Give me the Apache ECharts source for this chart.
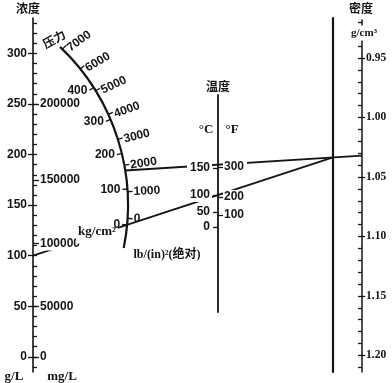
<!DOCTYPE html>
<html><head><meta charset="utf-8">
<script src="https://cdn.jsdelivr.net/npm/echarts@6.0.0/dist/echarts.min.js"></script>
<style>html,body{margin:0;padding:0;background:#fff;}#c{width:392px;height:383px;}</style>
</head><body><div id="c"></div>
<script>
// ---- scale data ----
const concGL = [0, 50, 100, 150, 200, 250, 300];
const concMinorGL = [-10, 0, 10, 20, 30, 40, 50, 60, 70, 80, 90, 100, 110, 120, 130, 140, 150, 160, 170, 180, 190, 200, 210, 220, 230, 240, 250, 260, 270, 280, 290, 300, 310, 320, 330];
const concMgL = [0, 50000, 100000, 150000, 200000];
const concMgLAtGL = [0, 50, 112, 175, 250];          // where each mg/L mark sits on the g/L scale
const pressKg = [0, 100, 200, 300, 400];
const pressLb = [0, 1000, 2000, 3000, 4000, 5000, 6000, 7000];
const tempC = [0, 50, 100, 150];
const tempCAt = [85, 100, 117, 144];                   // position along the temperature stem
const tempF = [100, 200, 300];
const tempFAt = [97, 115, 145];
const densityMajor = [0.95, 1.00, 1.05, 1.10, 1.15, 1.20];
const densityMinor = [0.92, 0.93, 0.94, 0.95, 0.96, 0.97, 0.98, 0.99, 1.00, 1.01, 1.02, 1.03, 1.04, 1.05, 1.06, 1.07, 1.08, 1.09, 1.10, 1.11, 1.12, 1.13, 1.14, 1.15, 1.16, 1.17, 1.18, 1.19, 1.20, 1.21];
// worked example (index lines)
const exampleConcGL = 100;
const examplePressLb = 1800;
const exampleDensity = 1.032;

const INK = '#141414';
const numFont = {color: INK, fontFamily: 'Liberation Sans', fontWeight: 'bold', fontSize: 12};
const ls = (w) => ({color: INK, width: w});

const chart = echarts.init(document.getElementById('c'), null, {renderer: 'canvas'});

const gridBoxes = [
  {left: 0, top: 0, width: 392, height: 383},   // overlay for index lines
  {left: 33, top: 18, width: 1, height: 354},   // concentration
  {left: 218, top: 95, width: 1, height: 217},  // temperature
  {left: 333, top: 18, width: 1, height: 354},  // turning line
  {left: 362, top: 20, width: 1, height: 352}   // density
];
const grid = gridBoxes.map(g => Object.assign({outerBoundsMode: 'none', containLabel: false, show: false}, g));
const xAxis = gridBoxes.map((g, i) => ({gridIndex: i, type: 'value', min: 0, max: i === 0 ? 392 : 1, show: false}));

const noSplit = {show: false};
const yAxis = [
  {gridIndex: 0, type: 'value', min: 0, max: 383, inverse: true, show: false},
  // concentration g/L
  {gridIndex: 1, type: 'value', min: -15, max: 335, position: 'left', z: 6,
   axisLine: {show: true, lineStyle: ls(1.6)},
   axisTick: {show: true, customValues: concGL, length: 5, lineStyle: ls(1.3)},
   axisLabel: Object.assign({customValues: concGL, margin: 6}, numFont),
   splitLine: noSplit},
  {gridIndex: 1, type: 'value', min: -15, max: 335, position: 'left', z: 6,
   axisLine: {show: false},
   axisTick: {show: true, customValues: concMinorGL, inside: true, length: 4, lineStyle: ls(1.3)},
   axisLabel: {show: false}, splitLine: noSplit},
  {gridIndex: 1, type: 'value', min: -15, max: 335, position: 'left', z: 6,
   axisLine: {show: false},
   axisTick: {show: true, customValues: concMgLAtGL, inside: true, length: 6, lineStyle: ls(1.3)},
   axisLabel: Object.assign({customValues: concMgLAtGL, inside: true, margin: 7,
     backgroundColor: '#fff', padding: [2, 2, 0, 0],
     formatter: v => String(concMgL[concMgLAtGL.indexOf(v)])}, numFont),
   splitLine: noSplit},
  // temperature
  {gridIndex: 2, type: 'value', min: 0, max: 217, position: 'left', z: 10,
   axisLine: {show: true, lineStyle: ls(1.8)},
   axisTick: {show: true, customValues: tempCAt, length: 5, lineStyle: ls(1.3)},
   axisLabel: Object.assign({customValues: tempCAt, margin: 6, backgroundColor: '#fff', padding: [1, 2, 1, 3],
     formatter: v => String(tempC[tempCAt.indexOf(v)])}, numFont),
   splitLine: noSplit},
  {gridIndex: 2, type: 'value', min: 0, max: 217, position: 'left', z: 10,
   axisLine: {show: false},
   axisTick: {show: true, customValues: tempFAt, inside: true, length: 5, lineStyle: ls(1.3)},
   axisLabel: Object.assign({customValues: tempFAt, inside: true, margin: 5, backgroundColor: '#fff', padding: [1, 3, 1, 1],
     formatter: v => String(tempF[tempFAt.indexOf(v)])}, numFont),
   splitLine: noSplit},
  // turning line
  {gridIndex: 3, type: 'value', min: 0, max: 1, position: 'left', z: 4,
   axisLine: {show: true, lineStyle: ls(2.2)}, axisTick: {show: false}, axisLabel: {show: false}, splitLine: noSplit},
  // density
  {gridIndex: 4, type: 'value', min: 0.918, max: 1.214, inverse: true, position: 'left', z: 6,
   axisLine: {show: true, lineStyle: ls(1.5)},
   axisTick: {show: true, customValues: densityMajor, inside: true, length: 3, lineStyle: ls(1.3)},
   axisLabel: {customValues: densityMajor, inside: true, margin: 4, color: INK,
     fontFamily: 'Liberation Serif', fontWeight: 'bold', fontSize: 11.5, formatter: v => v.toFixed(2)},
   splitLine: noSplit},
  {gridIndex: 4, type: 'value', min: 0.918, max: 1.214, inverse: true, position: 'left', z: 6,
   axisLine: {show: false},
   axisTick: {show: true, customValues: densityMinor, length: 4, lineStyle: ls(1.3)},
   axisLabel: {show: false}, splitLine: noSplit}
];

// pressure arc: lb/in² angle axis on the curve, kg/cm² angle axis on a slightly smaller concentric arc
const polar = [{center: [-90, 205], radius: 218}, {center: [-90, 205], radius: 213}];
const radiusAxis = [{polarIndex: 0, min: 0, max: 1, show: false}, {polarIndex: 1, min: 0, max: 1, show: false}];
const angleAxis = [
  {polarIndex: 0, type: 'value', min: -1119, max: 7122, startAngle: -11.4, endAngle: 46.5, clockwise: false, z: 6,
   axisLine: {show: true, lineStyle: ls(2.2)},
   axisTick: {show: true, customValues: pressLb, length: 5, lineStyle: ls(1.3)},
   axisLabel: {show: false}, splitLine: noSplit},
  {polarIndex: 1, type: 'value', min: -65, max: 547, startAngle: -11.4, endAngle: 46.5, clockwise: false, z: 6,
   axisLine: {show: false},
   axisTick: {show: true, customValues: pressKg, length: 5, lineStyle: ls(1.3)},
   axisLabel: {show: false},
   splitLine: noSplit}
];

const txt = (text, x, y, font, extra) => ({type: 'text', z: 20, x, y, rotation: (extra && extra.rotation) || 0,
  style: Object.assign({text, x: 0, y: 0, font, fill: INK,
    textAlign: 'center', textVerticalAlign: 'middle', align: 'center', verticalAlign: 'middle'}, (extra && extra.style) || {})});
const cjk = "bold 12px 'Noto Sans CJK SC'";
const serif = "bold 13px 'Liberation Serif'";
const graphic = [
  txt('浓度', 28, 8, cjk),
  txt('压力', 54, 39, cjk, {rotation: 0.5}),
  txt('g/L', 14, 377, serif),
  txt('mg/L', 62, 377, serif),
  txt('kg/cm²', 97, 232, serif, {style: {backgroundColor: '#fff', padding: [0, 2, 10, 2]}}),
  txt('lb/(in)²(绝对)', 167, 255, "bold 12px 'Liberation Serif','Noto Sans CJK SC'"),
  txt('温度', 218, 86, cjk),
  txt('°C', 206, 130, serif),
  txt('°F', 232, 130, serif),
  txt('密度', 361, 8, cjk),
  txt('g/cm³', 364, 33, "bold 11px 'Liberation Serif'", {style: {backgroundColor: '#fff', padding: [2, 0, 2, 0]}})
];

const lbSeries = {type: 'scatter', coordinateSystem: 'polar', polarIndex: 0, symbolSize: 0, silent: true, z: 8,
  itemStyle: {opacity: 1}, emphasis: {disabled: true},
  data: pressLb.map(v => ({value: [1, v]})),
  label: Object.assign({show: true, position: 'right', distance: 6, opacity: 1, formatter: p => String(p.value[1])}, numFont)};
const kgSeries = {type: 'scatter', coordinateSystem: 'polar', polarIndex: 1, symbolSize: 0, silent: true, z: 21,
  itemStyle: {opacity: 1}, emphasis: {disabled: true},
  data: pressKg.map(v => ({value: [1, v]})),
  label: Object.assign({show: true, position: 'left', distance: 2, opacity: 1,
    formatter: p => String(p.value[1])}, numFont)};

chart.setOption({animation: false, backgroundColor: '#fff', grid, xAxis, yAxis, polar, radiusAxis, angleAxis, graphic,
  series: [lbSeries, kgSeries]});

// ---- derive geometry through the library's scales ----
const centerPx = chart.convertToPixel({seriesIndex: 0}, [0, 0]);
lbSeries.data = pressLb.map(v => {
  const p = chart.convertToPixel({seriesIndex: 0}, [1, v]);
  const rot = Math.atan2(centerPx[1] - p[1], p[0] - centerPx[0]) * 180 / Math.PI;
  return {value: [1, v], label: {rotate: rot * 0.8}};
});
const P = chart.convertToPixel({seriesIndex: 0}, [1, examplePressLb]);
const C = [chart.convertToPixel({xAxisIndex: 1}, 0), chart.convertToPixel({yAxisIndex: 1}, exampleConcGL)];
const D = [chart.convertToPixel({xAxisIndex: 4}, 0), chart.convertToPixel({yAxisIndex: 7}, exampleDensity)];
const tx = chart.convertToPixel({xAxisIndex: 3}, 0);
const T = [tx, P[1] + (D[1] - P[1]) * (tx - P[0]) / (D[0] - P[0])];
const toData = p => chart.convertFromPixel({gridIndex: 0}, p);
const idxLine = (a, b) => ({type: 'line', xAxisIndex: 0, yAxisIndex: 0, data: [toData(a), toData(b)], symbol: 'none',
  lineStyle: {color: INK, width: 1.8}, z: 3, silent: true});

chart.setOption({series: [lbSeries, kgSeries, idxLine(P, D), idxLine(C, T)]});
</script></body></html>
